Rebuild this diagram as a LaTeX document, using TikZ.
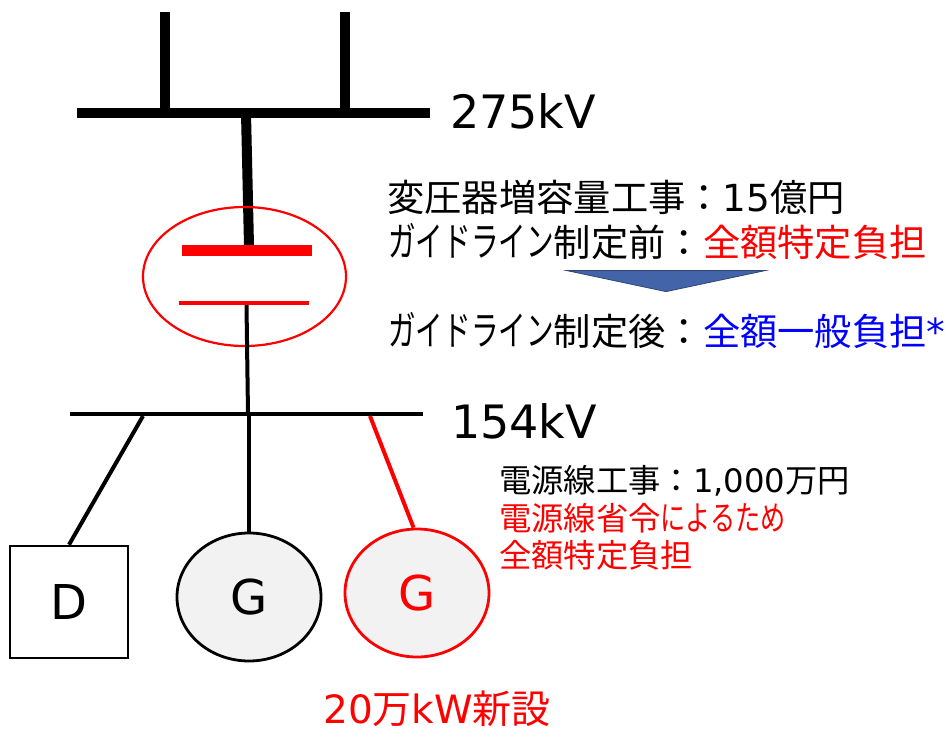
\documentclass[tikz,border=0pt]{standalone}
\usepackage{fontspec}
\setmainfont{DejaVu Sans}
\newfontfamily\jpf{Noto Sans CJK JP}
\newcommand{\J}[1]{{\jpf #1}}
\newcommand{\K}[1]{\scalebox{.74}[1.08]{\jpf #1}}
\newcommand{\Ks}[1]{\scalebox{.78}[1.05]{\jpf #1}}
\usetikzlibrary{shapes.geometric}
\definecolor{tri}{RGB}{68,100,170}
\definecolor{blu}{RGB}{0,0,255}
\definecolor{gfill}{RGB}{242,242,242}
\begin{document}
\begin{tikzpicture}[x=1pt,y=-1pt,
 lab/.style={anchor=base west,inner sep=0pt,font=\fontsize{#1}{#1}\selectfont},
 ln/.style={line width=#1,line cap=butt},
 gen/.style={line width=2.8,fill=gfill,ellipse,minimum width=144,minimum height=128,inner sep=0pt,font=\fontsize{48}{48}\selectfont}]
\useasboundingbox (0,0) rectangle (951,729);
\coordinate (t1) at (165,12); \coordinate (t1b) at (165,113);
\coordinate (t2) at (345,12); \coordinate (t2b) at (345,113);
\coordinate (b1l) at (77,113); \coordinate (b1r) at (430,113);
\draw[ln=10] (b1l)--(b1r);
\draw[ln=10] (t1)--(t1b);
\draw[ln=10] (t2)--(t2b);
\coordinate (j1) at (246,113); \coordinate (p1) at (249,246);
\draw[ln=10] (j1)--(p1);
\node[draw=red,line width=2.2,ellipse,minimum width=203,minimum height=139,inner sep=0pt] (ring) at (244.5,276.5) {};
\coordinate (a1) at (182,250.5); \coordinate (a2) at (312,250.5);
\draw[red,ln=11] (a1)--(a2);
\coordinate (c1) at (179,303); \coordinate (c2) at (309,303);
\draw[red,ln=4] (c1)--(c2);
\coordinate (s1) at (246.5,305); \coordinate (j2) at (248,414);
\draw[ln=4] (s1)--(j2);
\coordinate (b2l) at (70,414); \coordinate (b2r) at (423,414);
\draw[ln=4] (b2l)--(b2r);
\node[draw,line width=2.6,minimum width=118,minimum height=112,inner sep=0pt,font=\fontsize{48}{48}\selectfont] (D) at (69,602) {\raisebox{-3pt}{D}};
\node[draw,gen] (G1) at (249,597) {\raisebox{-3pt}{G}};
\node[draw=red,gen,text=red] (G2) at (417,593) {\raisebox{-2pt}{G}};
\coordinate (d0) at (143,416);
\draw[ln=4] (d0)--(D.north);
\coordinate (g0) at (249,414);
\draw[ln=4] (g0)--(G1.north);
\coordinate (r0) at (370,416);
\draw[red,ln=4] (r0)--(G2.93);
\node[lab=46] (v1) at (450,128) {275kV};
\node[lab=46] (v2) at (451,438) {154kV};
\node[lab=37.3] (n1) at (387,211) {\J{変圧器増容量工事：}15\J{億円}};
\node[lab=37.3] (n2) at (388,256) {\K{ガイドライン}\J{制定前：}\textcolor{red}{\J{全額特定負担}}};
\node[lab=37.3] (n3) at (388,345) {\K{ガイドライン}\J{制定後：}\textcolor{blu}{\J{全額一般負担}*}};
\node[draw=tri!70!black,fill=tri,line width=.8,isosceles triangle,shape border rotate=-90,isosceles triangle stretches,minimum width=198,minimum height=21,inner sep=0pt] (ar) at (666,281) {};
\node[lab=32.3] (n4) at (499,492) {\J{電源線工事：}1,000\J{万円}};
\node[lab=32.3,text=red] (n5) at (499,530) {\J{電源線省令}\Ks{によるため}};
\node[lab=32.3,text=red] (n6) at (499,567) {\J{全額特定負担}};
\node[lab=39,text=red] (n7) at (323,723) {20\J{万}kW\J{新設}};
\end{tikzpicture}
\end{document}
